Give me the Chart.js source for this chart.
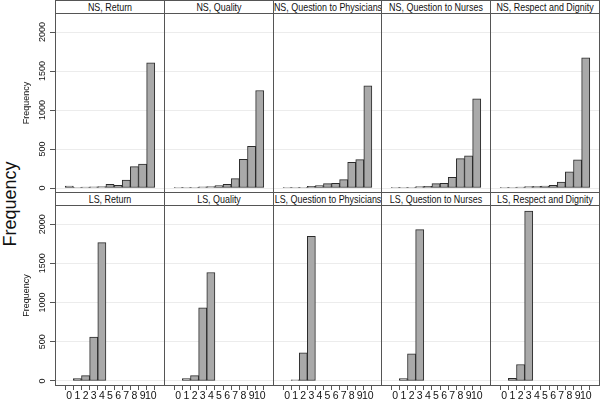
<!DOCTYPE html>
<html>
	<head>
		<title>Frequency</title>
		<meta charset="utf-8"/>
		<script src="https://cdn.jsdelivr.net/npm/chart.js@4.4.0/dist/chart.umd.min.js"></script>
		<style>
			body { margin: 0; background: #fff; }
			#figure { position: relative; width: 600px; height: 400px; overflow: hidden; background: #fff; font-family: "Liberation Sans", Arial, Helvetica, sans-serif; }
			#figure canvas { position: absolute; }
			.strip { position: absolute; box-sizing: border-box; border: 1px solid #555; background: #fff; color: #111; font-size: 10.5px; line-height: 12px; white-space: nowrap; overflow: hidden; }
			.strip span { position: absolute; left: 50%; top: 0; transform: translateX(-50%) scaleX(0.85); }
			.bigtitle { position: absolute; left: -45px; top: 193px; width: 110px; height: 22px; line-height: 22px; text-align: center; font-size: 18px; color: #111; transform: rotate(-90deg); }
		</style>
	</head>
	<body>
		<div id="figure">
			<div class="bigtitle">Frequency</div>
		</div>
		<script>
			// Werte der Achsen
			const scores = [0, 1, 2, 3, 4, 5, 6, 7, 8, 9, 10];
			const yTicks = [0, 500, 1000, 1500, 2000];

			// Titel der Felder
			const nsTitles = ['NS, Return', 'NS, Quality', 'NS, Question to Physicians', 'NS, Question to Nurses', 'NS, Respect and Dignity'];
			const lsTitles = ['LS, Return', 'LS, Quality', 'LS, Question to Physicians', 'LS, Question to Nurses', 'LS, Respect and Dignity'];

			// Häufigkeiten (NS)
			const nsReturn    = [26, 9, 13, 15, 17, 47, 34, 103, 274, 308, 1606];
			const nsQuality   = [8, 3, 8, 15, 17, 30, 47, 120, 368, 535, 1250];
			const nsPhysician = [4, 4, 4, 20, 30, 56, 60, 107, 330, 364, 1310];
			const nsNurses    = [4, 3, 8, 17, 20, 56, 60, 137, 377, 411, 1143];
			const nsRespect   = [4, 3, 13, 17, 21, 26, 34, 77, 206, 360, 1670];

			// Häufigkeiten (LS)
			const lsReturn    = [null, 31, 69, 561, 1764, null, null, null, null, null, null];
			const lsQuality   = [null, 30, 69, 933, 1383, null, null, null, null, null, null];
			const lsPhysician = [null, 15, 360, 1846, null, null, null, null, null, null, null];
			const lsNurses    = [null, 30, 347, 1931, null, null, null, null, null, null, null];
			const lsRespect   = [null, 34, 210, 2167, null, null, null, null, null, null, null];

			const rows = [
				{ titles: nsTitles, series: [nsReturn, nsQuality, nsPhysician, nsNurses, nsRespect] },
				{ titles: lsTitles, series: [lsReturn, lsQuality, lsPhysician, lsNurses, lsRespect] }
			];

			const colEdges = [55, 164, 273, 381, 490, 599];
			const rowGeom = [
				{ stripTop: 0, stripH: 14, plotTop: 13, canvasH: 180 },
				{ stripTop: 192, stripH: 14, plotTop: 205, canvasH: 195 }
			];
			const fontFamily = '"Liberation Sans", Arial, Helvetica, sans-serif';

			const framePlugin = {
				id: 'frame',
				afterDraw(chart) {
					const a = chart.chartArea;
					const ctx = chart.ctx;
					ctx.save();
					ctx.strokeStyle = '#555';
					ctx.lineWidth = 1;
					ctx.strokeRect(Math.round(a.left) + 0.5, Math.round(a.top) + 0.5, Math.round(a.right - a.left) - 1, Math.round(a.bottom - a.top) - 1);
					ctx.restore();
				}
			};

			const figure = document.getElementById('figure');

			rows.forEach((row, r) => {
				const g = rowGeom[r];
				row.series.forEach((values, c) => {
					// Kopfzeile
					const strip = document.createElement('div');
					strip.className = 'strip';
					strip.style.left = colEdges[c] + 'px';
					strip.style.top = g.stripTop + 'px';
					strip.style.width = (colEdges[c + 1] - colEdges[c] + 1) + 'px';
					strip.style.height = g.stripH + 'px';
					const label = document.createElement('span');
					label.textContent = row.titles[c];
					strip.appendChild(label);
					figure.appendChild(strip);

					// Zeichenfläche
					const left = c === 0 ? 0 : colEdges[c];
					const width = colEdges[c + 1] - left + 1;
					const canvas = document.createElement('canvas');
					canvas.width = width;
					canvas.height = g.canvasH;
					canvas.style.left = left + 'px';
					canvas.style.top = g.plotTop + 'px';
					figure.appendChild(canvas);

					const showX = r === 1;
					const showY = c === 0;

					new Chart(canvas.getContext('2d'), {
						type: 'bar',
						data: {
							datasets: [{
								data: scores.map((s, i) => ({ x: s, y: values[i] })),
								backgroundColor: '#a9a9a9',
								borderColor: '#2b2b2b',
								borderWidth: 1,
								borderSkipped: false,
								barPercentage: 1,
								categoryPercentage: 1
							}]
						},
						options: {
							responsive: false,
							animation: false,
							devicePixelRatio: 1,
							layout: { padding: 0 },
							plugins: { legend: { display: false }, tooltip: { enabled: false } },
							scales: {
								x: {
									type: 'linear',
									min: -1.14,
									max: 11.14,
									display: showX,
									afterBuildTicks: scale => { scale.ticks = scores.map(v => ({ value: v })); },
									afterFit: scale => { scale.height = showX ? 14 : 0; scale.paddingLeft = 0; scale.paddingRight = 0; },
									grid: { display: true, drawOnChartArea: false, drawTicks: true, tickLength: 4, tickColor: '#555' },
									border: { display: false },
									ticks: { padding: 0, color: '#111', font: { family: fontFamily, size: 10.5 }, maxRotation: 0, autoSkip: false, callback: v => String(v) }
								},
								y: {
									type: 'linear',
									min: -64,
									max: 2244,
									afterBuildTicks: scale => { scale.ticks = yTicks.map(v => ({ value: v })); },
									afterFit: scale => { scale.width = showY ? 55 : 0; scale.paddingTop = 0; scale.paddingBottom = 0; },
									grid: { color: '#ececec', drawTicks: showY, tickLength: 5, tickColor: '#555' },
									border: { display: false },
									title: { display: showY, text: 'Frequency', color: '#111', font: { family: fontFamily, size: 9 }, padding: { top: 21, bottom: 0 } },
									ticks: { display: showY, padding: -3, crossAlign: 'center', minRotation: 90, maxRotation: 90, color: '#111', font: { family: fontFamily, size: 9 }, callback: v => String(v) }
								}
							}
						},
						plugins: [framePlugin]
					});
				});
			});
		</script>
	</body>
</html>
